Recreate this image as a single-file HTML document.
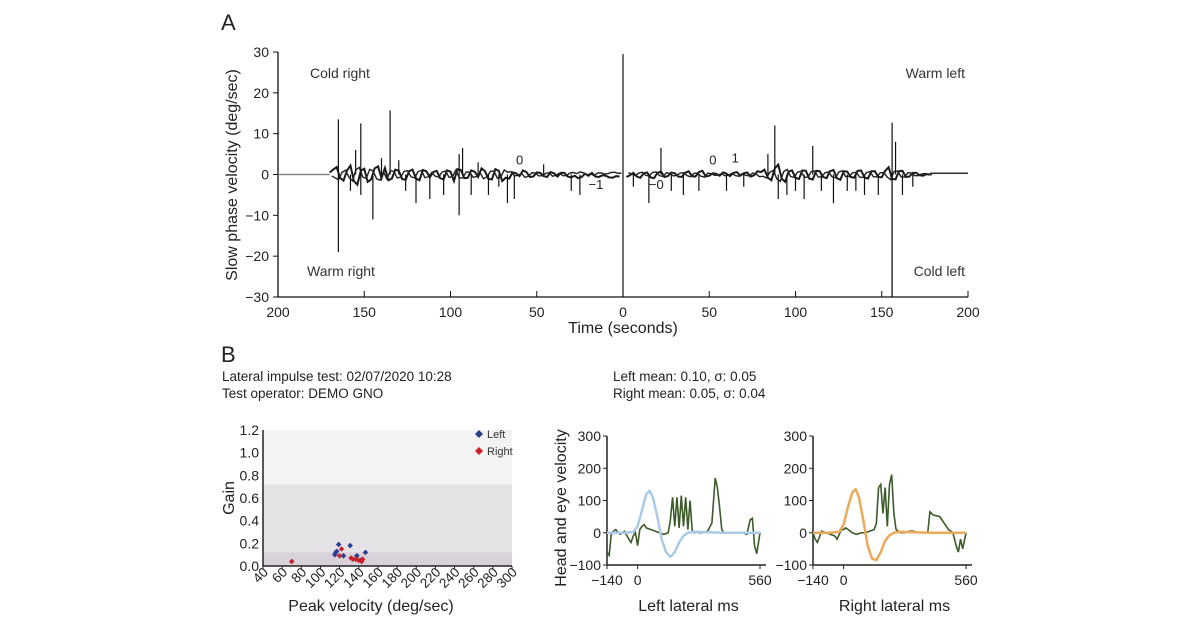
<!DOCTYPE html>
<html><head><meta charset="utf-8">
<style>
html,body{margin:0;padding:0;background:#fff;}
svg{display:block;font-family:"Liberation Sans",sans-serif;}
</style></head>
<body>
<svg id="fig" width="1200" height="628" viewBox="0 0 1200 628">
  <g id="panelA"></g>
  <g id="panelB"></g>
  <g id="panelL"></g>
  <g id="panelR"></g>
</svg>
<script>
// ---------- Panel A data ----------
const aTickLabels = [200,150,100,50,0,50,100,150,200];
const aYTicks = [30,20,10,0,-10,-20,-30];
const leftNoiseT = [170,168,166,164,162,160,158,156,154,152,150,148,146,144,142,140,138,136,134,132,130,128,126,124,122,120,118,116,114,112,110,108,106,104,102,100,98,96,94,92,90,88,86,84,82,80,78,76,74,72,70,68,66,64,62,60,58,56,54,52,50,48,46,44,42,40,38,36,34,32,30,28,26,24,22,20,18,16,14,12,10,8,6,4,2];
const leftNoiseV = [0.5,1.2,1.8,-0.8,-1.5,1.0,2.2,-1.6,-2.5,0.9,1.4,-1.8,-1.2,1.5,2.0,-0.9,1.6,-1.4,-1.0,1.2,0.9,-1.1,-1.3,0.8,1.2,-1.0,-1.4,1.1,0.8,-0.7,0.6,0.9,-0.9,-1.2,1.0,0.7,-1.6,1.3,1.1,-0.9,-0.8,1.0,0.7,-0.6,1.5,0.8,-1.1,-1.2,1.3,0.9,-1.6,-0.8,-1.0,0.5,0.3,-0.4,1.0,0.6,-0.6,-0.5,0.5,0.4,-0.4,-0.6,0.6,0.3,-0.5,0.4,0.4,-0.5,-0.7,-0.3,-0.9,-0.6,0.2,-0.3,0.4,-0.5,-0.6,-0.2,-0.3,-0.7,-0.8,-0.4,-0.5];
const leftSpikeT = [165,165,152,152,155,135,145,130,120,112,104,95,93,95,67,63,78,88,30,25,158,140,126,84,72,46];
const leftSpikeV = [13.5,-19,12.5,-5,6,15.7,-11,3.5,-7,-6,-5,5,6.5,-10,-7,-6,-5,-5,-4,-5,-4,4,-4,3,-3,2.5];
const rightNoiseT = [2,4,6,8,10,12,14,16,18,20,22,24,26,28,30,32,34,36,38,40,42,44,46,48,50,52,54,56,58,60,62,64,66,68,70,72,74,76,78,80,82,84,86,88,90,92,94,96,98,100,102,104,106,108,110,112,114,116,118,120,122,124,126,128,130,132,134,136,138,140,142,144,146,148,150,152,154,156,158,160,162,164,166,168,170,172,174,176,178];
const rightNoiseV = [-0.6,-0.2,0.4,-0.5,-0.8,0.3,0.5,-0.7,-0.9,0.4,0.7,-0.6,-0.4,0.5,0.3,-0.5,-0.6,0.4,0.8,-0.4,-0.5,0.6,0.9,-0.5,-0.3,0.3,0.2,-0.3,0.5,0.2,-0.4,0.4,0.6,-0.3,0.3,0.5,-0.5,-0.2,0.8,0.6,1.2,-0.8,-1.4,1.5,2.4,-1.0,-1.8,0.7,1.0,-0.8,-1.1,1.0,0.9,-1.0,-1.2,0.9,0.8,-0.6,-0.9,0.8,1.1,-0.9,-1.3,0.8,0.7,-0.6,-0.8,0.9,1.0,-0.7,-1.0,0.8,0.8,-0.6,-0.7,0.9,1.8,-1.1,-1.2,0.8,0.9,-0.6,-0.5,0.4,0.4,-0.2,-0.3,0.1,0];
const rightSpikeT = [0,22,15,88,90,84,110,105,122,156,158,162,100,130,140,35,60,6,28,44,70,95,115,135,148,168];
const rightSpikeV = [29.5,6.5,-7,12,-6,5,7,-6,-7,12.7,8,-5,-4,-4,-5,-5,-4,-3,-4,-4,-3,-5,-4,-4,-5,-3];
const zeroMarkerT = 0;
const coldLeftT = 156;

// ---------- Panel B scatter data ----------
const gainXTicks = [40,60,80,100,120,140,160,180,200,220,240,260,280,300];
const gainYTicks = [0.0,0.2,0.4,0.6,0.8,1.0,1.2];
const leftPeakVel = [115,117,119,124,131,138,142,147,116];
const leftGain = [0.10,0.13,0.19,0.09,0.18,0.09,0.05,0.12,0.12];
const rightPeakVel = [70,120,122,134,137,140,144,132,143];
const rightGain = [0.04,0.09,0.15,0.06,0.06,0.05,0.06,0.07,0.04];
const bandLimits = [1.2,0.72,0.12];

// ---------- Impulse charts data ----------
const impYTicks = [300,200,100,0,-100];
const impXTicks = [-140,0,560];
const headT = [-140,-60,-20,0,20,40,55,70,90,110,130,150,170,190,210,230,260,300,400,560];
const headLeftV = [0,0,2,20,70,120,130,110,50,-20,-60,-75,-60,-30,-10,0,3,2,0,0];
const headRightV = [0,0,3,25,80,125,135,110,40,-40,-80,-85,-60,-25,-8,0,3,2,0,0];
const eyeT = [-140,-130,-120,-100,-80,-60,-40,-30,-20,-10,0,10,20,30,40,60,80,100,120,140,150,160,170,180,190,200,210,220,230,240,250,260,270,280,300,320,340,355,365,375,385,395,410,440,480,500,515,525,535,545,560];
const eyeLeftV = [-60,-70,0,10,-5,5,-20,-30,-10,0,-40,10,20,25,15,10,5,0,-5,0,40,110,20,110,15,115,20,110,10,100,5,0,2,0,0,5,30,170,140,80,10,0,0,0,0,-5,40,45,-40,-65,0];
const eyeRightV = [0,-20,-30,5,0,-5,-10,-20,-5,10,10,15,10,5,0,-5,0,0,5,10,30,140,150,60,140,20,150,180,60,10,5,0,0,0,5,5,0,0,0,0,0,65,55,50,10,0,-40,-60,-20,-50,0];

const NS = "http://www.w3.org/2000/svg";
function mk(parent, tag, attrs, text){
  const e = document.createElementNS(NS, tag);
  for (const k in attrs) e.setAttribute(k, attrs[k]);
  if (text !== undefined) e.textContent = text;
  parent.appendChild(e);
  return e;
}

// ===== Panel A =====
(function(){
  const g = document.getElementById('panelA');
  const x0 = 278, x1 = 968, xc = 623, yT = 52, yB = 297;
  const sx = (x1 - xc) / 200;
  const xl = t => xc - t * sx;
  const xr = t => xc + t * sx;
  const y = v => yB - (v + 30) * (yB - yT) / 60;

  let t = mk(g,'text',{x:221,y:30,'font-size':22,fill:'#222'},'A');
   

  let ax = mk(g,'path',{d:`M${x0} ${yT}V${yB}H${x1}`,stroke:'#111','stroke-width':1.3,fill:'none'});
   
  aYTicks.forEach(v=>{
    mk(g,'line',{x1:x0-5,x2:x0,y1:y(v),y2:y(v),stroke:'#111'});
    const l = mk(g,'text',{x:x0-9,y:y(v)+5,'text-anchor':'end','font-size':14,fill:'#222'},v===0?'0':(v<0?'\u2212'+(-v):v));
     
  });
  aTickLabels.forEach((v,i)=>{
    const px = x0 + i*(x1-x0)/8;
    mk(g,'line',{x1:px,x2:px,y1:yB,y2:yB-6,stroke:'#111'});
    const l = mk(g,'text',{x:px,y:yB+20,'text-anchor':'middle','font-size':14,fill:'#222'},v);
     
  });
  let xt = mk(g,'text',{x:xc,y:333,'text-anchor':'middle','font-size':16,fill:'#222'},'Time (seconds)');
   
  let yt = mk(g,'text',{transform:`translate(237,175) rotate(-90)`,'text-anchor':'middle','font-size':16,fill:'#222'},'Slow phase velocity (deg/sec)');
   

  [['Cold right',310,78,'start','label-cold-right'],['Warm right',307,276,'start','label-warm-right'],['Warm left',965,78,'end','label-warm-left'],['Cold left',965,276,'end','label-cold-left']].forEach(a=>{
    const e = mk(g,'text',{x:a[1],y:a[2],'text-anchor':a[3],'font-size':14,fill:'#333'},a[0]);
     
  });

  mk(g,'line',{x1:x0,x2:xl(170),y1:y(0),y2:y(0),stroke:'#888','stroke-width':1.5});
  mk(g,'line',{x1:xr(178),x2:x1,y1:y(0.3),y2:y(0.3),stroke:'#333','stroke-width':1.5});

  function trace(T,V,fx,name){
    let d='';
    T.forEach((tt,i)=>{ d += (i?'L':'M') + fx(tt) + ' ' + y(V[i]) + ' '; });
    const p = mk(g,'path',{d,stroke:'#1a1a1a','stroke-width':2,fill:'none'});
     
    let d2='';
    T.forEach((tt,i)=>{ d2 += (i?'L':'M') + (fx(tt)+2) + ' ' + y(-V[i]*0.7) + ' '; });
    const p2 = mk(g,'path',{d:d2,stroke:'#222','stroke-width':1.4,fill:'none'});
     
  }
  trace(leftNoiseT,leftNoiseV,xl,'trace-right-ear');
  trace(rightNoiseT,rightNoiseV,xr,'trace-left-ear');
  leftSpikeT.forEach((tt,i)=>{
    const s = mk(g,'line',{x1:xl(tt),x2:xl(tt),y1:y(0),y2:y(leftSpikeV[i]),stroke:'#111','stroke-width':1.2});
     
  });
  rightSpikeT.forEach((tt,i)=>{
    const s = mk(g,'line',{x1:xr(tt),x2:xr(tt),y1:y(0),y2:y(rightSpikeV[i]),stroke:'#111','stroke-width':1.2});
     
  });
  const zm = mk(g,'line',{x1:xr(zeroMarkerT),x2:xr(zeroMarkerT),y1:y(0),y2:yB,stroke:'#111','stroke-width':1.2});
   
  const cl = mk(g,'line',{x1:xr(coldLeftT),x2:xr(coldLeftT),y1:y(0),y2:yB,stroke:'#111','stroke-width':1.3});
   
  [['0',xl(62),y(2.5)],['\u22121',xl(20),y(-3.5)],['\u22120',xr(15),y(-3.5)],['0',xr(50),y(2.5)],['1',xr(63),y(3)]].forEach(a=>{
    const e = mk(g,'text',{x:a[1],y:a[2],'font-size':13,fill:'#222'},a[0]);
     
  });
})();

// ===== Panel B scatter =====
(function(){
  const g = document.getElementById('panelB');
  const x0 = 263, x1 = 512, yB = 566, yT = 430;
  const x = v => x0 + (v-40)*(x1-x0)/260;
  const y = v => yB - v*(yB-yT)/1.2;
  let b = mk(g,'text',{x:221,y:362,'font-size':22,fill:'#222'},'B');
   
  [['Lateral impulse test: 02/07/2020 10:28',222,381,'test-info'],['Test operator: DEMO GNO',222,398,'operator-info'],['Left mean: 0.10, \u03c3: 0.05',613,381,'left-mean'],['Right mean: 0.05, \u03c3: 0.04',613,398,'right-mean']].forEach(a=>{
    const e = mk(g,'text',{x:a[1],y:a[2],'font-size':13.5,fill:'#222'},a[0]);
     
  });
  const fills = ['#f4f3f4','#e6e3e6','#d9d1d9'];
  bandLimits.forEach((v,i)=>{
    const r = mk(g,'rect',{x:x0,y:y(v),width:x1-x0,height:yB-y(v),fill:fills[i]});
     
  });
  const ax = mk(g,'path',{d:`M${x0} ${yT}V${yB}H${x1}`,stroke:'#222','stroke-width':1.5,fill:'none'});
   
  gainYTicks.forEach(v=>{
    const l = mk(g,'text',{x:x0-4,y:y(v)+5,'text-anchor':'end','font-size':14,fill:'#222'},v.toFixed(1));
     
  });
  gainXTicks.forEach(v=>{
    mk(g,'line',{x1:x(v),x2:x(v),y1:yB,y2:yB+3,stroke:'#222'});
    const l = mk(g,'text',{transform:`translate(${x(v)+6},${yB+7}) rotate(-45)`,'text-anchor':'end','font-size':13.5,fill:'#222'},v);
     
  });
  const xt = mk(g,'text',{x:371,y:611,'text-anchor':'middle','font-size':16,fill:'#222'},'Peak velocity (deg/sec)');
   
  const yt = mk(g,'text',{transform:'translate(234,498) rotate(-90)','text-anchor':'middle','font-size':16,fill:'#222'},'Gain');
   
  function dia(cx,cy,c,s){ return mk(g,'path',{d:`M${cx} ${cy-s}L${cx+s} ${cy}L${cx} ${cy+s}L${cx-s} ${cy}Z`,fill:c}); }
  leftPeakVel.forEach((v,i)=>{
    const d = dia(x(v),y(leftGain[i]),'#2b3d8f',2.8);
     
  });
  rightPeakVel.forEach((v,i)=>{
    const d = dia(x(v),y(rightGain[i]),'#c8202f',2.8);
     
  });
  let d1 = dia(479,434,'#2b3d8f',4);  
  let t1 = mk(g,'text',{x:487,y:438,'font-size':11,fill:'#333'},'Left');  
  let d2 = dia(479,451,'#c8202f',4);  
  let t2 = mk(g,'text',{x:487,y:455,'font-size':11,fill:'#333'},'Right');  
})();

// ===== Impulse charts =====
function impulse(id, x0, x1, headV, eyeV, headColor, title, showYTitle){
  const g = document.getElementById(id);
  const yT = 436, yB = 565;
  const x = v => x0 + (v+140)*(x1-x0)/700;
  const y = v => yB - (v+100)*(yB-yT)/400;
  const ax = mk(g,'path',{d:`M${x0} ${yT}V${yB}H${x1+6}`,stroke:'#222','stroke-width':1.5,fill:'none'});
   
  impYTicks.forEach(v=>{
    mk(g,'line',{x1:x0-4,x2:x0,y1:y(v),y2:y(v),stroke:'#222'});
    const l = mk(g,'text',{x:x0-6,y:y(v)+5,'text-anchor':'end','font-size':14,fill:'#222'},v<0?'\u2212'+(-v):v);
     
  });
  impXTicks.forEach(v=>{
    mk(g,'line',{x1:x(v),x2:x(v),y1:yB,y2:yB+4,stroke:'#222'});
    const l = mk(g,'text',{x:x(v),y:yB+20,'text-anchor':'middle','font-size':14,fill:'#222'},v<0?'\u2212'+(-v):v);
     
  });
  const xt = mk(g,'text',{x:(x0+x1)/2+5,y:611,'text-anchor':'middle','font-size':16,fill:'#222'},title);
   
  if (showYTitle){
    const yt = mk(g,'text',{transform:`translate(566,508) rotate(-90)`,'text-anchor':'middle','font-size':16,fill:'#222'},'Head and eye velocity');
     
  }
  let de='';
  eyeT.forEach((t,i)=>{ de += (i?'L':'M') + x(t) + ' ' + y(eyeV[i]) + ' '; });
  const e = mk(g,'path',{d:de,stroke:'#3d5a2a','stroke-width':1.6,fill:'none'});
   
  let dh='';
  headT.forEach((t,i)=>{ dh += (i?'L':'M') + x(t) + ' ' + y(headV[i]) + ' '; });
  const h = mk(g,'path',{d:dh,stroke:headColor,'stroke-width':2.5,fill:'none','stroke-linejoin':'round'});
   
}
impulse('panelL',607,760,headLeftV,eyeLeftV,'#a9cbe8','Left lateral ms',true);
impulse('panelR',813,966,headRightV,eyeRightV,'#eba95a','Right lateral ms',false);
</script>
</body></html>
